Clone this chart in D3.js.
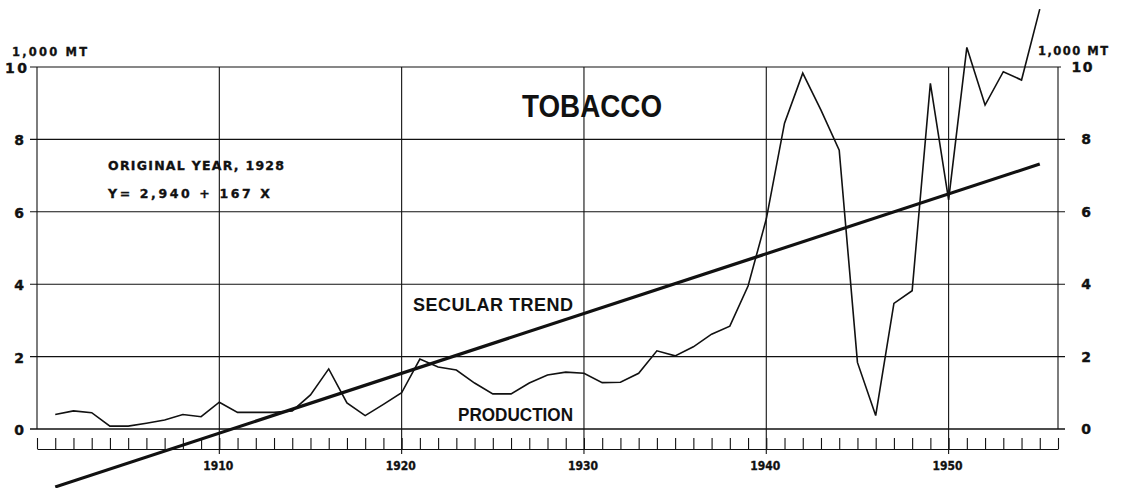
<!DOCTYPE html>
<html><head><meta charset="utf-8">
<script src="https://cdn.jsdelivr.net/npm/d3@7"></script>
<style>body{margin:0;background:#fff}svg{display:block}</style>
</head><body>
<svg id="c" width="1123" height="488"></svg>
<script>
// ---- data ----
const years = [1901,1902,1903,1904,1905,1906,1907,1908,1909,1910,
               1911,1912,1913,1914,1915,1916,1917,1918,1919,1920,
               1921,1922,1923,1924,1925,1926,1927,1928,1929,1930,
               1931,1932,1933,1934,1935,1936,1937,1938,1939,1940,
               1941,1942,1943,1944,1945,1946,1947,1948,1949,1950,
               1951,1952,1953,1954,1955];
const production = [0.40,0.50,0.45,0.08,0.08,0.16,0.25,0.40,0.34,0.74,
                    0.46,0.46,0.46,0.50,0.94,1.66,0.72,0.37,0.68,1.00,
                    1.93,1.71,1.63,1.27,0.97,0.97,1.27,1.49,1.57,1.54,
                    1.28,1.29,1.54,2.16,2.02,2.27,2.62,2.84,3.95,5.80,
                    8.45,9.83,8.81,7.70,1.84,0.37,3.47,3.82,9.55,6.33,
                    10.54,8.95,9.87,9.64,11.60];
const trendYears = [1901, 1955];
const trendValues = [-1.60, 7.32];
const yTicks = [0, 2, 4, 6, 8, 10];
const yTickLabels = ["0", "2", "4", "6", "8", "10"];
const decadeTicks = [1910, 1920, 1930, 1940, 1950];
const decadeLabels = ["1910", "1920", "1930", "1940", "1950"];
const yearTicks = d3.range(1900, 1957);
const unitLabel = "1,000 MT";
const title = "TOBACCO";
const noteLines = ["ORIGINAL YEAR, 1928", "Y= 2,940 + 167 X"];
const trendLabel = "SECULAR TREND";
const productionLabel = "PRODUCTION";

// ---- layout ----
const svg = d3.select("#c");
const x = d3.scaleLinear().domain([1900, 1956]).range([37, 1058]);
const y = d3.scaleLinear().domain([0, 10]).range([429, 67]);
const ink = "#111";
const smallFont = "'DejaVu Sans', sans-serif";
const bigFont = "'Liberation Sans', Arial, sans-serif";

const g = svg.append("g");

// horizontal grid lines with small outer ticks
g.selectAll("line.h").data(yTicks).join("line")
  .attr("x1", x(1900) - 7).attr("x2", d => d === 10 ? x(1956) + 3 : x(1956) + 7)
  .attr("y1", d => y(d)).attr("y2", d => y(d))
  .attr("stroke", ink).attr("stroke-width", d => d === 0 ? 1.4 : 1.1);

// borders
[1900, 1956].forEach(v => {
  g.append("line").attr("x1", x(v)).attr("x2", x(v))
    .attr("y1", y(10)).attr("y2", y(0))
    .attr("stroke", ink).attr("stroke-width", 1.1);
});
// decade grid lines
g.selectAll("line.v").data(decadeTicks).join("line")
  .attr("x1", d => x(d)).attr("x2", d => x(d))
  .attr("y1", y(10)).attr("y2", y(0) + 25)
  .attr("stroke", ink).attr("stroke-width", 1.1);

// year tick strip
const strip = g.append("g").attr("transform", `translate(0,${y(0) + 20})`)
  .call(d3.axisTop(x).tickValues(yearTicks).tickSize(11).tickSizeOuter(0).tickFormat(""));
strip.select(".domain").attr("stroke", ink).attr("stroke-width", 1.2);
strip.selectAll(".tick line").attr("stroke", ink).attr("stroke-width", 1.1);

// decade labels
g.selectAll("text.dec").data(decadeTicks).join("text")
  .attr("x", d => x(d) - 1).attr("y", y(0) + 41)
  .attr("text-anchor", "middle")
  .attr("font-family", smallFont).attr("font-weight", "bold").attr("font-size", 12)
  .attr("textLength", 30).attr("lengthAdjust", "spacingAndGlyphs")
  .attr("fill", ink).attr("stroke", ink).attr("stroke-width", 0.35)
  .text((d, i) => decadeLabels[i]);

// left y labels
g.selectAll("text.yl").data(yTicks).join("text")
  .attr("x", d => d === 10 ? 16 : 19).attr("y", d => y(d) + 6)
  .attr("text-anchor", "middle")
  .attr("font-family", smallFont).attr("font-weight", "bold").attr("font-size", 14)
  .attr("fill", ink).attr("stroke", ink).attr("stroke-width", 0.4)
  .each(function (d, i) {
    const t = d3.select(this).text(yTickLabels[i]);
    if (d === 10) t.attr("textLength", 22).attr("lengthAdjust", "spacing");
  });
// right y labels
g.selectAll("text.yr").data(yTicks).join("text")
  .attr("x", d => d === 10 ? 1082 : 1086).attr("y", d => y(d) + 5)
  .attr("text-anchor", "middle")
  .attr("font-family", smallFont).attr("font-weight", "bold").attr("font-size", 14)
  .attr("fill", ink).attr("stroke", ink).attr("stroke-width", 0.4)
  .each(function (d, i) {
    const t = d3.select(this).text(yTickLabels[i]);
    if (d === 10) t.attr("textLength", 21).attr("lengthAdjust", "spacing");
  });

// generic text helper
function txt(s, xx, yy, size, len, fam, sw) {
  return g.append("text").attr("x", xx).attr("y", yy)
    .attr("font-family", fam).attr("font-weight", "bold")
    .attr("font-size", size).attr("fill", ink)
    .attr("stroke", ink).attr("stroke-width", sw || 0)
    .attr("textLength", len).attr("lengthAdjust", "spacing")
    .text(s);
}
txt(unitLabel, 12, 56, 11.5, 75, smallFont, 0.3);
txt(unitLabel, 1038, 55, 11.5, 70, smallFont, 0.3);

// annotation texts
txt(noteLines[0], 108, 170, 12.5, 176, smallFont, 0.35);
txt(noteLines[1], 108, 198, 12.5, 162, smallFont, 0.35);
txt(title, 522, 117, 32, 140, bigFont).attr("lengthAdjust", "spacingAndGlyphs");
txt(trendLabel, 413, 311, 18, 160, bigFont);
txt(productionLabel, 458, 421, 18, 115, bigFont).attr("lengthAdjust", "spacingAndGlyphs");

// trend line
const trendLine = d3.line().x((d, i) => x(trendYears[i])).y(d => y(d));
g.append("path").datum(trendValues).attr("d", trendLine)
  .attr("fill", "none").attr("stroke", ink).attr("stroke-width", 3.2)
  .attr("stroke-linecap", "butt");

// production line
const prodLine = d3.line().x((d, i) => x(years[i])).y(d => y(d));
g.append("path").datum(production).attr("d", prodLine)
  .attr("fill", "none").attr("stroke", ink).attr("stroke-width", 1.6)
  .attr("stroke-linejoin", "miter");
</script>
</body></html>
